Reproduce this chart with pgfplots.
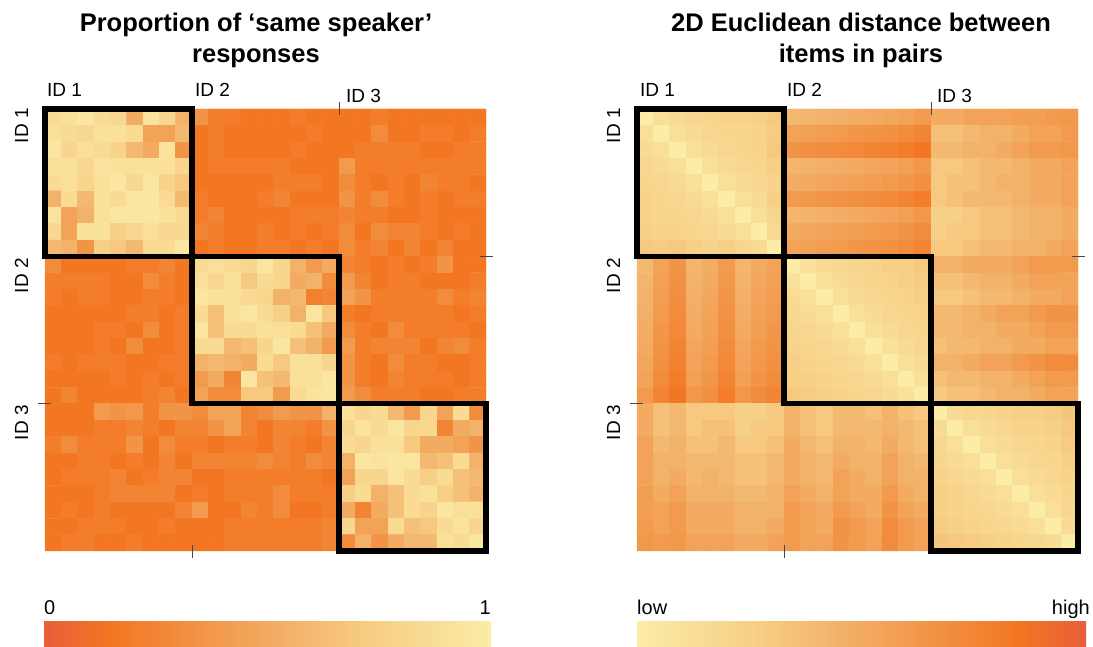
\documentclass[border=0pt]{standalone}
\usepackage{pgfplots}
\pgfplotsset{compat=1.18}
\usepackage{fontspec}
\setmainfont{Liberation Sans}
\pgfplotsset{
 colormap={LRY}{rgb255(0pt)=(232,94,58) rgb255(15pt)=(243,118,34) rgb255(35pt)=(242,148,70) rgb255(55pt)=(243,178,106) rgb255(75pt)=(247,208,135) rgb255(100pt)=(251,236,166)},
 colormap={RYR}{rgb255(0pt)=(251,236,166) rgb255(25pt)=(247,208,135) rgb255(45pt)=(243,178,106) rgb255(65pt)=(242,148,70) rgb255(85pt)=(243,118,34) rgb255(100pt)=(232,94,58)},
 hm/.style={scale only axis, width=441bp, height=442bp, hide axis, clip=false,
   xmin=-0.5, xmax=26.5, ymin=-0.5, ymax=26.5, anchor=south west,
   point meta min=0, point meta max=100},
}
\pgfdeclarehorizontalshading{cbL}{100bp}{rgb(0bp)=(0.910,0.369,0.227); rgb(25bp)=(0.910,0.369,0.227); rgb(32.5bp)=(0.953,0.463,0.133); rgb(42.5bp)=(0.949,0.580,0.275); rgb(52.5bp)=(0.953,0.698,0.416); rgb(62.5bp)=(0.969,0.816,0.529); rgb(75bp)=(0.984,0.925,0.651); rgb(100bp)=(0.984,0.925,0.651)}
\pgfdeclarehorizontalshading{cbR}{100bp}{rgb(0bp)=(0.984,0.925,0.651); rgb(25bp)=(0.984,0.925,0.651); rgb(37.5bp)=(0.969,0.816,0.529); rgb(47.5bp)=(0.953,0.698,0.416); rgb(57.5bp)=(0.949,0.580,0.275); rgb(67.5bp)=(0.953,0.463,0.133); rgb(75bp)=(0.910,0.369,0.227); rgb(100bp)=(0.910,0.369,0.227)}
\definecolor{tickc}{RGB}{70,70,70}
\newcommand{\blocksandticks}{%
\draw[tickc, line width=0.9bp] (axis cs:17.5,26.5) ++(0bp,7bp) -- ++(0bp,-13bp);
\draw[tickc, line width=0.9bp] (axis cs:26.5,17.5) ++(-6bp,0bp) -- ++(13bp,0bp);
\draw[tickc, line width=0.9bp] (axis cs:-0.5,8.5) ++(-7bp,0bp) -- ++(13bp,0bp);
\draw[tickc, line width=0.9bp] (axis cs:8.5,-0.5) ++(0bp,6bp) -- ++(0bp,-13bp);
\draw[line width=5.5bp] (axis cs:-0.5,17.5) rectangle (axis cs:8.5,26.5);
\draw[line width=5.5bp] (axis cs:8.5,8.5) rectangle (axis cs:17.5,17.5);
\draw[line width=5.5bp] (axis cs:17.5,-0.5) rectangle (axis cs:26.5,8.5);
}
\begin{document}
\begin{tikzpicture}
\useasboundingbox (0bp,0bp) rectangle (1093bp,647bp);
% ---------------- left heatmap ----------------
\begin{axis}[hm, at={(45bp,96bp)}, colormap name=LRY]
\addplot[matrix plot*, mesh/cols=27, point meta=explicit] table[row sep=\\, header=false,
  x expr={\coordindex-27*floor((\coordindex+0.5)/27)}, y expr={26-floor((\coordindex+0.5)/27)}, meta index=0]{
85\\ 88\\ 95\\ 85\\ 82\\ 50\\ 92\\ 80\\ 55\\ 35\\ 20\\ 20\\ 15\\ 15\\ 15\\ 20\\ 15\\ 15\\ 15\\ 15\\ 20\\ 15\\ 15\\ 15\\ 15\\ 15\\ 15\\
88\\ 85\\ 82\\ 90\\ 90\\ 85\\ 45\\ 45\\ 60\\ 15\\ 20\\ 15\\ 15\\ 15\\ 15\\ 15\\ 20\\ 15\\ 15\\ 15\\ 30\\ 15\\ 15\\ 20\\ 20\\ 15\\ 20\\
95\\ 80\\ 88\\ 85\\ 78\\ 60\\ 50\\ 92\\ 35\\ 15\\ 20\\ 15\\ 15\\ 15\\ 15\\ 20\\ 15\\ 15\\ 15\\ 20\\ 20\\ 20\\ 20\\ 15\\ 15\\ 20\\ 20\\
88\\ 90\\ 82\\ 92\\ 90\\ 90\\ 90\\ 90\\ 80\\ 15\\ 20\\ 20\\ 20\\ 20\\ 20\\ 15\\ 15\\ 15\\ 40\\ 20\\ 20\\ 20\\ 20\\ 20\\ 20\\ 20\\ 20\\
85\\ 90\\ 80\\ 90\\ 95\\ 82\\ 95\\ 78\\ 70\\ 15\\ 15\\ 15\\ 15\\ 15\\ 20\\ 20\\ 20\\ 15\\ 30\\ 20\\ 15\\ 20\\ 15\\ 25\\ 20\\ 20\\ 15\\
55\\ 85\\ 60\\ 90\\ 85\\ 95\\ 95\\ 85\\ 60\\ 20\\ 15\\ 15\\ 15\\ 20\\ 25\\ 15\\ 15\\ 15\\ 35\\ 20\\ 30\\ 20\\ 15\\ 20\\ 15\\ 20\\ 20\\
92\\ 45\\ 55\\ 90\\ 95\\ 95\\ 95\\ 90\\ 85\\ 20\\ 25\\ 15\\ 15\\ 15\\ 15\\ 20\\ 20\\ 20\\ 25\\ 20\\ 20\\ 15\\ 15\\ 20\\ 15\\ 15\\ 15\\
82\\ 45\\ 90\\ 90\\ 75\\ 82\\ 88\\ 82\\ 82\\ 25\\ 20\\ 15\\ 15\\ 20\\ 15\\ 20\\ 15\\ 20\\ 30\\ 15\\ 30\\ 25\\ 25\\ 20\\ 15\\ 20\\ 15\\
60\\ 55\\ 35\\ 75\\ 70\\ 60\\ 85\\ 85\\ 95\\ 15\\ 20\\ 15\\ 15\\ 20\\ 20\\ 15\\ 20\\ 15\\ 30\\ 20\\ 25\\ 15\\ 25\\ 15\\ 25\\ 15\\ 15\\
30\\ 15\\ 15\\ 15\\ 15\\ 20\\ 20\\ 25\\ 15\\ 85\\ 88\\ 85\\ 80\\ 95\\ 80\\ 55\\ 40\\ 50\\ 25\\ 20\\ 15\\ 20\\ 15\\ 20\\ 35\\ 15\\ 15\\
20\\ 20\\ 20\\ 20\\ 15\\ 15\\ 30\\ 20\\ 15\\ 88\\ 82\\ 90\\ 70\\ 85\\ 80\\ 50\\ 55\\ 30\\ 40\\ 25\\ 15\\ 20\\ 20\\ 15\\ 15\\ 15\\ 20\\
20\\ 15\\ 20\\ 20\\ 15\\ 15\\ 20\\ 20\\ 15\\ 95\\ 90\\ 88\\ 85\\ 80\\ 55\\ 60\\ 22\\ 25\\ 45\\ 35\\ 20\\ 20\\ 20\\ 20\\ 30\\ 20\\ 25\\
15\\ 15\\ 15\\ 15\\ 15\\ 20\\ 20\\ 15\\ 20\\ 85\\ 65\\ 90\\ 95\\ 85\\ 75\\ 55\\ 95\\ 70\\ 20\\ 15\\ 20\\ 20\\ 20\\ 20\\ 20\\ 15\\ 20\\
15\\ 15\\ 15\\ 20\\ 20\\ 15\\ 30\\ 15\\ 20\\ 95\\ 65\\ 85\\ 85\\ 90\\ 88\\ 85\\ 65\\ 50\\ 30\\ 20\\ 15\\ 30\\ 20\\ 20\\ 20\\ 20\\ 15\\
15\\ 15\\ 15\\ 20\\ 15\\ 30\\ 15\\ 15\\ 20\\ 85\\ 85\\ 60\\ 65\\ 80\\ 95\\ 65\\ 55\\ 40\\ 40\\ 20\\ 25\\ 25\\ 25\\ 15\\ 25\\ 30\\ 20\\
20\\ 15\\ 20\\ 20\\ 20\\ 15\\ 15\\ 20\\ 20\\ 55\\ 60\\ 55\\ 50\\ 85\\ 70\\ 90\\ 90\\ 80\\ 35\\ 20\\ 15\\ 30\\ 20\\ 20\\ 15\\ 15\\ 20\\
15\\ 15\\ 15\\ 15\\ 20\\ 15\\ 20\\ 15\\ 20\\ 40\\ 50\\ 25\\ 95\\ 65\\ 60\\ 90\\ 90\\ 95\\ 35\\ 20\\ 15\\ 25\\ 20\\ 20\\ 20\\ 15\\ 20\\
15\\ 25\\ 15\\ 15\\ 15\\ 15\\ 20\\ 25\\ 15\\ 45\\ 30\\ 30\\ 70\\ 70\\ 40\\ 85\\ 92\\ 95\\ 40\\ 30\\ 20\\ 20\\ 20\\ 15\\ 15\\ 20\\ 20\\
15\\ 15\\ 15\\ 40\\ 35\\ 38\\ 20\\ 35\\ 35\\ 30\\ 45\\ 45\\ 25\\ 30\\ 40\\ 35\\ 35\\ 55\\ 90\\ 80\\ 85\\ 60\\ 40\\ 80\\ 45\\ 85\\ 30\\
15\\ 15\\ 15\\ 20\\ 20\\ 25\\ 20\\ 15\\ 25\\ 25\\ 35\\ 45\\ 25\\ 15\\ 25\\ 25\\ 20\\ 35\\ 80\\ 92\\ 85\\ 95\\ 80\\ 82\\ 25\\ 50\\ 55\\
20\\ 30\\ 20\\ 20\\ 20\\ 35\\ 15\\ 30\\ 20\\ 20\\ 15\\ 20\\ 20\\ 15\\ 25\\ 20\\ 15\\ 25\\ 85\\ 80\\ 90\\ 90\\ 70\\ 50\\ 50\\ 45\\ 35\\
15\\ 15\\ 20\\ 20\\ 15\\ 20\\ 15\\ 25\\ 15\\ 25\\ 25\\ 25\\ 25\\ 30\\ 25\\ 20\\ 30\\ 25\\ 55\\ 95\\ 92\\ 95\\ 95\\ 60\\ 65\\ 85\\ 55\\
15\\ 20\\ 20\\ 20\\ 25\\ 15\\ 20\\ 25\\ 25\\ 15\\ 15\\ 20\\ 20\\ 20\\ 20\\ 20\\ 20\\ 15\\ 45\\ 80\\ 80\\ 95\\ 85\\ 75\\ 85\\ 65\\ 60\\
15\\ 15\\ 15\\ 20\\ 25\\ 25\\ 25\\ 25\\ 15\\ 20\\ 15\\ 20\\ 20\\ 20\\ 30\\ 20\\ 20\\ 20\\ 75\\ 85\\ 55\\ 65\\ 85\\ 90\\ 75\\ 65\\ 55\\
15\\ 20\\ 15\\ 20\\ 15\\ 15\\ 15\\ 15\\ 25\\ 40\\ 15\\ 15\\ 25\\ 20\\ 30\\ 15\\ 15\\ 20\\ 50\\ 25\\ 50\\ 65\\ 85\\ 78\\ 95\\ 88\\ 90\\
15\\ 15\\ 20\\ 20\\ 20\\ 15\\ 15\\ 20\\ 15\\ 15\\ 15\\ 20\\ 20\\ 20\\ 20\\ 20\\ 20\\ 25\\ 80\\ 45\\ 45\\ 85\\ 65\\ 70\\ 85\\ 92\\ 80\\
15\\ 20\\ 20\\ 15\\ 15\\ 20\\ 15\\ 15\\ 15\\ 15\\ 15\\ 20\\ 20\\ 20\\ 20\\ 20\\ 20\\ 25\\ 30\\ 55\\ 35\\ 50\\ 60\\ 60\\ 90\\ 85\\ 95\\
};
\blocksandticks
\end{axis}
% ---------------- right heatmap ----------------
\begin{axis}[hm, at={(637bp,96bp)}, colormap name=RYR]
\addplot[matrix plot*, mesh/cols=27, point meta=explicit] table[row sep=\\, header=false,
  x expr={\coordindex-27*floor((\coordindex+0.5)/27)}, y expr={26-floor((\coordindex+0.5)/27)}, meta index=0]{
0\\ 12\\ 15\\ 18\\ 20\\ 22\\ 22\\ 25\\ 30\\ 40\\ 42\\ 44\\ 46\\ 48\\ 50\\ 52\\ 55\\ 60\\ 50\\ 50\\ 55\\ 55\\ 55\\ 58\\ 58\\ 60\\ 62\\
12\\ 0\\ 12\\ 15\\ 18\\ 20\\ 20\\ 22\\ 28\\ 55\\ 57\\ 59\\ 61\\ 63\\ 65\\ 67\\ 70\\ 75\\ 35\\ 35\\ 40\\ 45\\ 45\\ 50\\ 55\\ 55\\ 60\\
15\\ 12\\ 0\\ 12\\ 15\\ 18\\ 20\\ 22\\ 30\\ 65\\ 67\\ 69\\ 71\\ 73\\ 75\\ 77\\ 80\\ 85\\ 40\\ 40\\ 45\\ 45\\ 50\\ 55\\ 60\\ 60\\ 62\\
18\\ 15\\ 12\\ 0\\ 12\\ 15\\ 18\\ 20\\ 25\\ 42\\ 44\\ 46\\ 48\\ 50\\ 52\\ 54\\ 57\\ 62\\ 30\\ 30\\ 35\\ 40\\ 40\\ 45\\ 50\\ 50\\ 55\\
20\\ 18\\ 15\\ 12\\ 0\\ 12\\ 15\\ 18\\ 22\\ 48\\ 50\\ 52\\ 54\\ 56\\ 58\\ 60\\ 63\\ 68\\ 30\\ 35\\ 35\\ 40\\ 45\\ 45\\ 50\\ 50\\ 55\\
22\\ 20\\ 18\\ 15\\ 12\\ 0\\ 12\\ 15\\ 25\\ 60\\ 62\\ 64\\ 66\\ 68\\ 70\\ 72\\ 75\\ 80\\ 30\\ 35\\ 40\\ 40\\ 40\\ 45\\ 50\\ 50\\ 55\\
22\\ 20\\ 20\\ 18\\ 15\\ 12\\ 0\\ 12\\ 20\\ 42\\ 44\\ 46\\ 48\\ 50\\ 52\\ 54\\ 57\\ 62\\ 25\\ 25\\ 30\\ 35\\ 35\\ 40\\ 45\\ 45\\ 50\\
25\\ 22\\ 22\\ 20\\ 18\\ 15\\ 12\\ 0\\ 15\\ 50\\ 52\\ 54\\ 56\\ 58\\ 60\\ 62\\ 65\\ 70\\ 25\\ 30\\ 30\\ 35\\ 35\\ 40\\ 45\\ 45\\ 50\\
30\\ 28\\ 30\\ 25\\ 22\\ 25\\ 20\\ 15\\ 0\\ 55\\ 57\\ 59\\ 61\\ 63\\ 65\\ 67\\ 70\\ 75\\ 30\\ 30\\ 35\\ 40\\ 40\\ 45\\ 45\\ 50\\ 55\\
40\\ 55\\ 65\\ 42\\ 48\\ 60\\ 42\\ 50\\ 55\\ 0\\ 10\\ 15\\ 18\\ 20\\ 22\\ 25\\ 25\\ 30\\ 45\\ 45\\ 50\\ 50\\ 50\\ 55\\ 60\\ 60\\ 60\\
42\\ 57\\ 67\\ 44\\ 50\\ 62\\ 44\\ 52\\ 57\\ 10\\ 0\\ 10\\ 15\\ 18\\ 20\\ 22\\ 25\\ 28\\ 35\\ 35\\ 40\\ 45\\ 45\\ 50\\ 55\\ 55\\ 55\\
44\\ 59\\ 69\\ 46\\ 52\\ 64\\ 46\\ 54\\ 59\\ 15\\ 10\\ 0\\ 12\\ 15\\ 18\\ 20\\ 22\\ 25\\ 30\\ 30\\ 35\\ 40\\ 40\\ 45\\ 50\\ 50\\ 55\\
46\\ 61\\ 71\\ 48\\ 54\\ 66\\ 48\\ 56\\ 61\\ 18\\ 15\\ 12\\ 0\\ 10\\ 15\\ 18\\ 20\\ 22\\ 40\\ 40\\ 45\\ 50\\ 55\\ 55\\ 60\\ 65\\ 65\\
48\\ 63\\ 73\\ 50\\ 56\\ 68\\ 50\\ 58\\ 63\\ 20\\ 18\\ 15\\ 10\\ 0\\ 12\\ 15\\ 18\\ 20\\ 40\\ 40\\ 45\\ 45\\ 50\\ 50\\ 55\\ 60\\ 60\\
50\\ 65\\ 75\\ 52\\ 58\\ 70\\ 52\\ 60\\ 65\\ 22\\ 20\\ 18\\ 15\\ 12\\ 0\\ 10\\ 15\\ 18\\ 35\\ 40\\ 40\\ 45\\ 45\\ 50\\ 50\\ 55\\ 55\\
52\\ 67\\ 77\\ 54\\ 60\\ 72\\ 54\\ 62\\ 67\\ 25\\ 22\\ 20\\ 18\\ 15\\ 10\\ 0\\ 12\\ 15\\ 45\\ 45\\ 50\\ 55\\ 55\\ 60\\ 65\\ 70\\ 70\\
55\\ 70\\ 80\\ 57\\ 63\\ 75\\ 57\\ 65\\ 70\\ 25\\ 25\\ 22\\ 20\\ 18\\ 15\\ 12\\ 0\\ 10\\ 35\\ 40\\ 40\\ 45\\ 45\\ 50\\ 55\\ 60\\ 60\\
60\\ 75\\ 85\\ 62\\ 68\\ 80\\ 62\\ 70\\ 75\\ 30\\ 28\\ 25\\ 22\\ 20\\ 18\\ 15\\ 10\\ 0\\ 30\\ 35\\ 35\\ 40\\ 45\\ 45\\ 50\\ 55\\ 55\\
50\\ 35\\ 40\\ 30\\ 30\\ 30\\ 25\\ 25\\ 30\\ 45\\ 35\\ 30\\ 40\\ 40\\ 35\\ 45\\ 35\\ 30\\ 0\\ 15\\ 18\\ 20\\ 22\\ 25\\ 25\\ 28\\ 32\\
50\\ 35\\ 40\\ 30\\ 35\\ 35\\ 25\\ 30\\ 30\\ 45\\ 35\\ 30\\ 40\\ 40\\ 40\\ 45\\ 40\\ 35\\ 15\\ 0\\ 12\\ 15\\ 18\\ 22\\ 22\\ 25\\ 30\\
55\\ 40\\ 45\\ 35\\ 35\\ 40\\ 30\\ 30\\ 35\\ 50\\ 40\\ 35\\ 45\\ 45\\ 40\\ 50\\ 40\\ 35\\ 18\\ 12\\ 0\\ 12\\ 15\\ 18\\ 20\\ 22\\ 28\\
55\\ 45\\ 45\\ 40\\ 40\\ 40\\ 35\\ 35\\ 40\\ 50\\ 45\\ 40\\ 50\\ 45\\ 45\\ 55\\ 45\\ 40\\ 20\\ 15\\ 12\\ 0\\ 12\\ 15\\ 18\\ 20\\ 25\\
55\\ 45\\ 50\\ 40\\ 45\\ 40\\ 35\\ 35\\ 40\\ 50\\ 45\\ 40\\ 55\\ 50\\ 45\\ 55\\ 45\\ 45\\ 22\\ 18\\ 15\\ 12\\ 0\\ 12\\ 15\\ 18\\ 22\\
58\\ 50\\ 55\\ 45\\ 45\\ 45\\ 40\\ 40\\ 45\\ 55\\ 50\\ 45\\ 55\\ 50\\ 50\\ 60\\ 50\\ 45\\ 25\\ 22\\ 18\\ 15\\ 12\\ 0\\ 12\\ 15\\ 20\\
58\\ 55\\ 60\\ 50\\ 50\\ 50\\ 45\\ 45\\ 45\\ 60\\ 55\\ 50\\ 60\\ 55\\ 50\\ 65\\ 55\\ 50\\ 25\\ 22\\ 20\\ 18\\ 15\\ 12\\ 0\\ 12\\ 18\\
60\\ 55\\ 60\\ 50\\ 50\\ 50\\ 45\\ 45\\ 50\\ 60\\ 55\\ 50\\ 65\\ 60\\ 55\\ 70\\ 60\\ 55\\ 28\\ 25\\ 22\\ 20\\ 18\\ 15\\ 12\\ 0\\ 15\\
62\\ 60\\ 62\\ 55\\ 55\\ 55\\ 50\\ 50\\ 55\\ 60\\ 55\\ 55\\ 65\\ 60\\ 55\\ 70\\ 60\\ 55\\ 32\\ 30\\ 28\\ 25\\ 22\\ 20\\ 18\\ 15\\ 0\\
};
\blocksandticks
\end{axis}
\begin{scope}[x=1bp,y=1bp]
% ---------------- titles ----------------
\begin{scope}[every node/.style={inner sep=0pt, font=\bfseries\fontsize{25.5bp}{30bp}\selectfont, anchor=base}]
\node at (256,615) {Proportion of ‘same speaker’};
\node at (256,584) {responses};
\node at (861,615) {2D Euclidean distance between};
\node at (861,584) {items in pairs};
\end{scope}
% ---------------- ID labels ----------------
\begin{scope}[every node/.style={inner sep=0pt, font=\fontsize{19bp}{22bp}\selectfont}]
\node[anchor=base west] at (47,550) {ID 1};
\node[anchor=base west] at (195,550) {ID 2};
\node[anchor=base west] at (346,544) {ID 3};
\node[rotate=90, anchor=base east] at (28,539) {ID 1};
\node[rotate=90, anchor=base east] at (28,389) {ID 2};
\node[rotate=90, anchor=base east] at (28,242) {ID 3};
\node[anchor=base west] at (640,550) {ID 1};
\node[anchor=base west] at (787,550) {ID 2};
\node[anchor=base west] at (937,544) {ID 3};
\node[rotate=90, anchor=base east] at (620,539) {ID 1};
\node[rotate=90, anchor=base east] at (620,389) {ID 2};
\node[rotate=90, anchor=base east] at (620,242) {ID 3};
\end{scope}
% ---------------- colour bars ----------------
\shade[shading=cbL] (44,0) rectangle (491,25);
\shade[shading=cbR] (637,0) rectangle (1086,25);
\begin{scope}[every node/.style={inner sep=0pt, font=\fontsize{20bp}{24bp}\selectfont}]
\node[anchor=base west] at (44,33) {0};
\node[anchor=base east] at (491,33) {1};
\node[anchor=base west] at (637,33) {low};
\node[anchor=base east] at (1090,33) {high};
\end{scope}
\end{scope}
\end{tikzpicture}
\end{document}
